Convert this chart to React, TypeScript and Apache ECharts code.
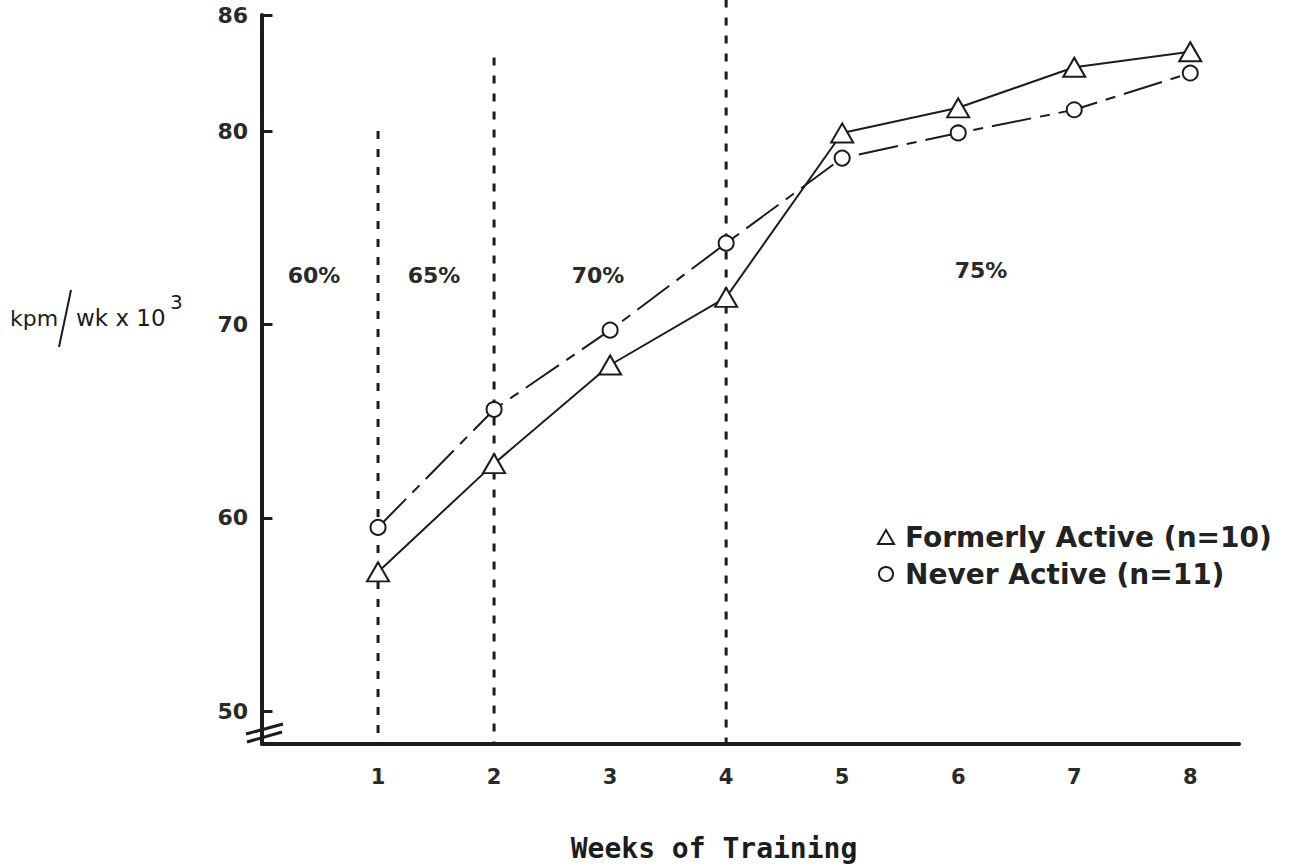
import React, { useEffect, useRef } from "react";
import * as echarts from "echarts";

const weeks = [1, 2, 3, 4, 5, 6, 7, 8];
const formerlyActive = [57.2, 62.8, 67.9, 71.4, 79.9, 81.2, 83.3, 84.1];
const neverActive = [59.5, 65.6, 69.7, 74.2, 78.6, 79.9, 81.1, 83.0];
const yTickValues = [50, 60, 70, 80, 86];
const xTickValues = [1, 2, 3, 4, 5, 6, 7, 8];
const dividerWeeks = [1, 2, 4];
const dividerTops = [80, 83.8, 86.8];
const yMin = 48.3;
const yMax = 86;
const xMax = 8.42;
const intensityLabels = ["60%", "65%", "70%", "75%"];
const seriesNames = ["Formerly Active (n=10)", "Never Active (n=11)"];

const INK = "#1c1c1c";
const FONT = "'DejaVu Sans', 'Liberation Sans', Arial, sans-serif";
const TICK_SPAN = 0.09; // inward tick length, in weeks

export default function App() {
  const ref = useRef<HTMLDivElement>(null);

  useEffect(() => {
    document.body.style.margin = "0";
    const chart = echarts.init(ref.current!, null, { renderer: "svg" });

    const dividerSeries = dividerWeeks.map((w, i) => ({
      type: "line",
      name: "divider" + w,
      data: [
        [w, dividerTops[i]],
        [w, yMin],
      ],
      symbol: "none",
      clip: false,
      silent: true,
      z: 1,
      lineStyle: { color: INK, width: 3, type: [8, 10] },
    }));

    const pctPos = [
      [314, 275],
      [434, 275],
      [598, 275],
      [981, 270],
    ];

    chart.setOption({
      animation: false,
      backgroundColor: "#ffffff",
      grid: {
        left: 262,
        top: 15,
        right: 55,
        bottom: 124,
        outerBoundsMode: "none",
      },
      xAxis: {
        type: "value",
        min: 0,
        max: xMax,
        splitLine: { show: false },
        axisLine: { show: true, lineStyle: { color: INK, width: 4 } },
        axisTick: { show: false },
        axisLabel: {
          customValues: xTickValues,
          fontSize: 21,
          fontFamily: FONT,
          fontWeight: "bold",
          color: "#2a2a2a",
          margin: 22,
        },
      },
      yAxis: {
        type: "value",
        min: yMin,
        max: yMax,
        splitLine: { show: false },
        axisLine: { show: true, lineStyle: { color: INK, width: 4 } },
        axisTick: { show: false },
        axisLabel: {
          customValues: yTickValues,
          fontSize: 22,
          fontFamily: FONT,
          fontWeight: "bold",
          color: "#2a2a2a",
          margin: 14,
        },
      },
      legend: {
        orient: "vertical",
        left: 872,
        top: 518,
        itemGap: 9,
        itemWidth: 16,
        itemHeight: 14,
        data: [
          { name: seriesNames[0], icon: "triangle" },
          { name: seriesNames[1], icon: "circle" },
        ],
        itemStyle: { color: "#fff", borderColor: INK, borderWidth: 2 },
        lineStyle: { opacity: 0 },
        textStyle: {
          fontSize: 28,
          fontWeight: "bold",
          fontFamily: FONT,
          color: "#222",
          padding: [0, 0, 0, 6],
        },
      },
      series: [
        ...dividerSeries,
        {
          type: "line",
          name: "yTicks",
          data: [],
          silent: true,
          markLine: {
            silent: true,
            symbol: "none",
            label: { show: false },
            lineStyle: { color: INK, width: 3, type: "solid" },
            data: yTickValues.map((v) => [
              { coord: [0, v] },
              { coord: [TICK_SPAN, v] },
            ]),
          },
        },
        {
          type: "line",
          name: seriesNames[0],
          data: weeks.map((w, i) => [w, formerlyActive[i]]),
          symbol: "triangle",
          symbolSize: [22, 19],
          z: 3,
          lineStyle: { color: INK, width: 2 },
          itemStyle: { color: "#fff", borderColor: INK, borderWidth: 2 },
        },
        {
          type: "line",
          name: seriesNames[1],
          data: weeks.map((w, i) => [w, neverActive[i]]),
          symbol: "circle",
          symbolSize: 15,
          z: 3,
          lineStyle: { color: INK, width: 2, type: [40, 9, 10, 9] },
          itemStyle: { color: "#fff", borderColor: INK, borderWidth: 2 },
        },
      ],
      graphic: [
        ...intensityLabels.map((t, i) => ({
          type: "text",
          x: pctPos[i][0],
          y: pctPos[i][1],
          style: {
            text: t,
            fontSize: 22,
            fontWeight: "bold",
            fontFamily: FONT,
            fill: "#2a2a2a",
            align: "center",
            verticalAlign: "middle",
          },
        })),
        {
          type: "text",
          x: 10,
          y: 318,
          style: {
            text: "kpm",
            fontSize: 22,
            fontFamily: FONT,
            fill: INK,
            verticalAlign: "middle",
          },
        },
        {
          type: "line",
          shape: { x1: 71, y1: 290, x2: 59, y2: 347 },
          style: { stroke: INK, lineWidth: 2 },
        },
        {
          type: "text",
          x: 76,
          y: 318,
          style: {
            text: "wk x 10",
            fontSize: 23,
            fontFamily: FONT,
            fill: INK,
            verticalAlign: "middle",
          },
        },
        {
          type: "text",
          x: 170,
          y: 302,
          style: {
            text: "3",
            fontSize: 20,
            fontFamily: FONT,
            fill: INK,
            verticalAlign: "middle",
          },
        },
        {
          type: "line",
          shape: { x1: 246, y1: 734, x2: 283, y2: 724 },
          style: { stroke: INK, lineWidth: 3 },
        },
        {
          type: "line",
          shape: { x1: 247, y1: 742, x2: 282, y2: 732 },
          style: { stroke: INK, lineWidth: 3 },
        },
        {
          type: "text",
          x: 714,
          y: 848,
          style: {
            text: "Weeks of Training",
            fontSize: 28,
            fontWeight: "bold",
            fontFamily: "'DejaVu Sans Mono', 'Liberation Mono', monospace",
            fill: INK,
            align: "center",
            verticalAlign: "middle",
          },
        },
      ],
    });

    return () => chart.dispose();
  }, []);

  return <div ref={ref} style={{ width: 1294, height: 868 }} />;
}
